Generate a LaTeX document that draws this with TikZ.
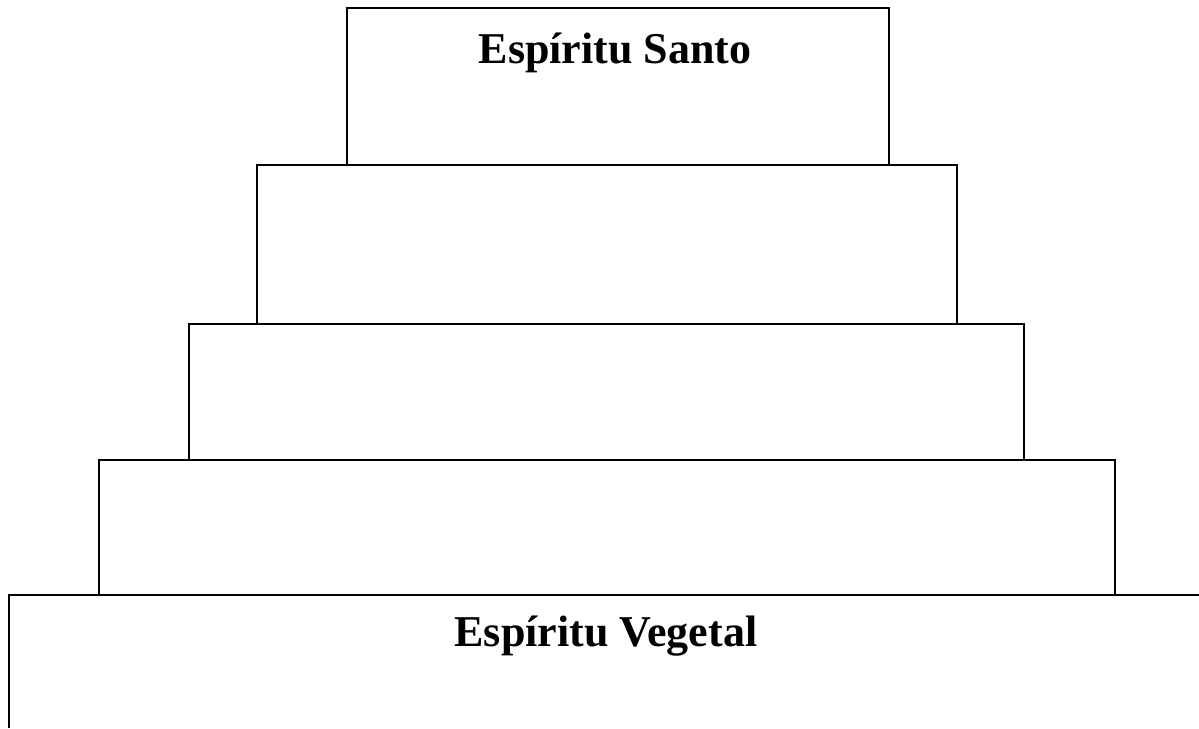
\documentclass[tikz,border=0pt]{standalone}
\usepackage{fontspec}
\setmainfont{Liberation Serif}
\begin{document}
\begin{tikzpicture}[x=1pt,y=1pt,
  tier/.style={draw=black,line width=2.4pt,inner sep=0pt,outer sep=0pt,anchor=south west},
  lbl/.style={font=\fontsize{44}{52}\selectfont\bfseries,anchor=base,inner sep=0pt}]
\useasboundingbox (0,0) rectangle (1199,728);
% bottom tier (open to the right and bottom)
\draw[line width=2.4pt] (9,0) -- (9,133) -- (1199,133);
\coordinate (b1) at (9,133);
\node[tier,minimum width=1016pt,minimum height=135pt] (t4) at (99,133) {};
\node[tier,minimum width=835pt,minimum height=136pt] (t3) at (189,268) {};
\node[tier,minimum width=700pt,minimum height=159pt] (t2) at (257,404) {};
\node[tier,minimum width=542pt,minimum height=157pt] (t1) at (347,563) {};
\node[lbl] (santo) at (615,664) {Espíritu Santo};
\node[lbl] (veg) at (606,81) {Espíritu Vegetal};
\end{tikzpicture}
\end{document}
